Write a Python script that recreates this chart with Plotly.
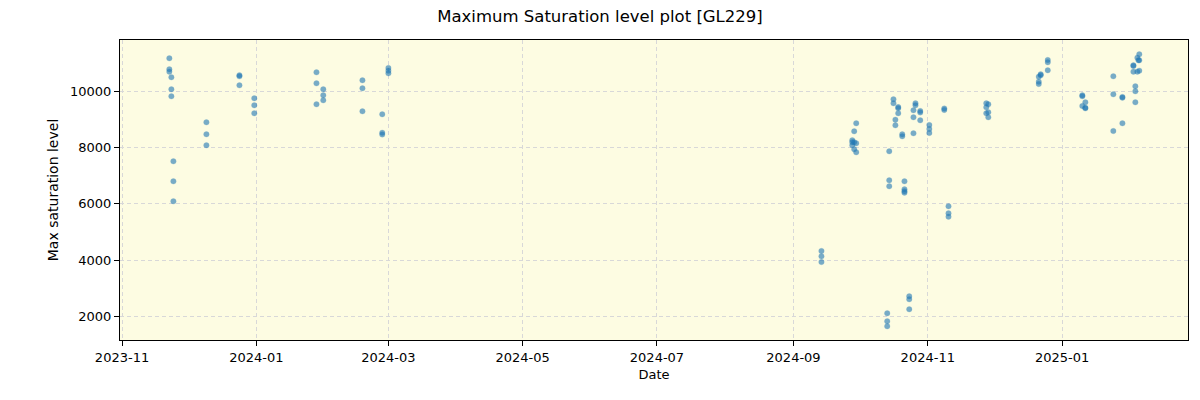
import plotly.graph_objects as go

dates = (
    ["2023-11-22 12:00"] * 3 + ["2023-11-23 10:00"] * 3 + ["2023-11-24 08:00"] * 3
    + ["2023-12-09 08:00"] * 3 + ["2023-12-24 08:00"] * 3 + ["2023-12-31 02:00"] * 3
    + ["2024-01-28 08:00"] * 3 + ["2024-01-31 10:00"] * 3 + ["2024-02-18 05:00"] * 3
    + ["2024-02-27 05:00"] * 3 + ["2024-03-01 00:00"] * 3
    + ["2024-09-13 17:00"] * 3
    + ["2024-09-27 17:00"] * 3 + ["2024-09-28 14:00"] * 3 + ["2024-09-29 12:00"] * 3
    + ["2024-10-13 14:00"] * 3 + ["2024-10-14 12:00"] * 3
    + ["2024-10-16 10:00"] * 2 + ["2024-10-17 07:00"] * 2 + ["2024-10-18 14:00"] * 3
    + ["2024-10-20 10:00"] * 2 + ["2024-10-21 10:00"] * 4 + ["2024-10-23 14:00"] * 3
    + ["2024-10-25 12:00"] * 3 + ["2024-10-26 10:00"] * 2 + ["2024-10-28 14:00"] * 3
    + ["2024-11-01 17:00"] * 3 + ["2024-11-08 12:00"] * 2 + ["2024-11-10 10:00"] * 3
    + ["2024-11-27 14:00"] * 3 + ["2024-11-28 12:00"] * 3
    + ["2024-12-21 10:00"] * 3 + ["2024-12-22 07:00"] * 2 + ["2024-12-25 12:00"] * 3
    + ["2025-01-10 05:00"] * 3 + ["2025-01-11 14:00"] * 3
    + ["2025-01-24 07:00"] * 3 + ["2025-01-28 10:00"] * 3
    + ["2025-02-02 10:00"] * 3 + ["2025-02-03 07:00"] * 3
    + ["2025-02-04 05:00"] * 2 + ["2025-02-04 17:00"] + ["2025-02-05 02:00"] * 3
)

values = [
    11159, 10769, 10684, 10486, 10060, 9812, 7508, 6799, 6090,
    8890, 8465, 8075, 10560, 10520, 10202, 9741, 9493, 9210,
    10663, 10273, 9529, 10060, 9848, 9670, 10379, 10096, 9280,
    9174, 8520, 8460, 10815, 10720, 10627,
    4328, 4140, 3938,
    8252, 8181, 8075, 8571, 8181, 7933, 8855, 8146, 7827,
    2120, 1836, 1659, 7862, 6834, 6622,
    9706, 9564, 8983, 8784, 9430, 9390, 9210,
    8465, 8394, 6799, 6515, 6444, 6395, 2722, 2616, 2262,
    9316, 9068, 8500, 9564, 9493, 9290, 9240, 8961,
    8795, 8653, 8511, 9380, 9330, 5913, 5665, 5544,
    9564, 9422, 9210, 9529, 9245, 9068,
    10507, 10330, 10248, 10557, 10592, 11099, 11017, 10734,
    9850, 9815, 9468, 9599, 9410, 9385,
    10521, 9883, 8582, 9790, 9765, 8855,
    10910, 10885, 10684, 10167, 9989, 9599,
    11180, 10684, 11088, 11301, 11088, 10720,
]

x_ticks = ["2023-11-01", "2024-01-01", "2024-03-01", "2024-05-01", "2024-07-01",
           "2024-09-01", "2024-11-01", "2025-01-01"]
x_tick_labels = ["2023-11", "2024-01", "2024-03", "2024-05", "2024-07",
                 "2024-09", "2024-11", "2025-01"]
y_ticks = [2000, 4000, 6000, 8000, 10000]
y_tick_labels = ["2000", "4000", "6000", "8000", "10000"]

fig = go.Figure()
fig.add_trace(go.Scatter(
    x=dates, y=values, mode="markers",
    marker=dict(color="#1f77b4", size=5.5, opacity=0.6,
                line=dict(width=0.5, color="rgba(31,119,180,0.5)")),
    showlegend=False,
))

font = "DejaVu Sans"
fig.update_layout(
    width=1200, height=400,
    margin=dict(l=120, r=12, t=40, b=60),
    paper_bgcolor="white",
    plot_bgcolor="#fdfce2",
    font=dict(family=font, size=13, color="black"),
    title=dict(text="Maximum Saturation level plot [GL229]", x=0.5, xanchor="center",
               y=0.96, yanchor="middle", font=dict(size=16.5, family=font)),
)
fig.update_xaxes(
    range=["2023-10-31 02:00", "2025-02-27 05:00"],
    tickvals=x_ticks, ticktext=x_tick_labels,
    showgrid=True, gridcolor="#d8d8d8", griddash="4px,3px", gridwidth=1,
    showline=True, linecolor="black", linewidth=1, mirror=True,
    ticks="outside", ticklen=5, tickcolor="black",
    title=dict(text="Date", font=dict(size=13), standoff=6),
    zeroline=False,
)
fig.update_yaxes(
    range=[1173, 11808],
    tickvals=y_ticks, ticktext=y_tick_labels,
    showgrid=True, gridcolor="#d8d8d8", griddash="4px,3px", gridwidth=1,
    showline=True, linecolor="black", linewidth=1, mirror=True,
    ticks="outside", ticklen=5, tickcolor="black",
    title=dict(text="Max saturation level", font=dict(size=14), standoff=8),
    zeroline=False,
)

fig.write_html("out.html")
